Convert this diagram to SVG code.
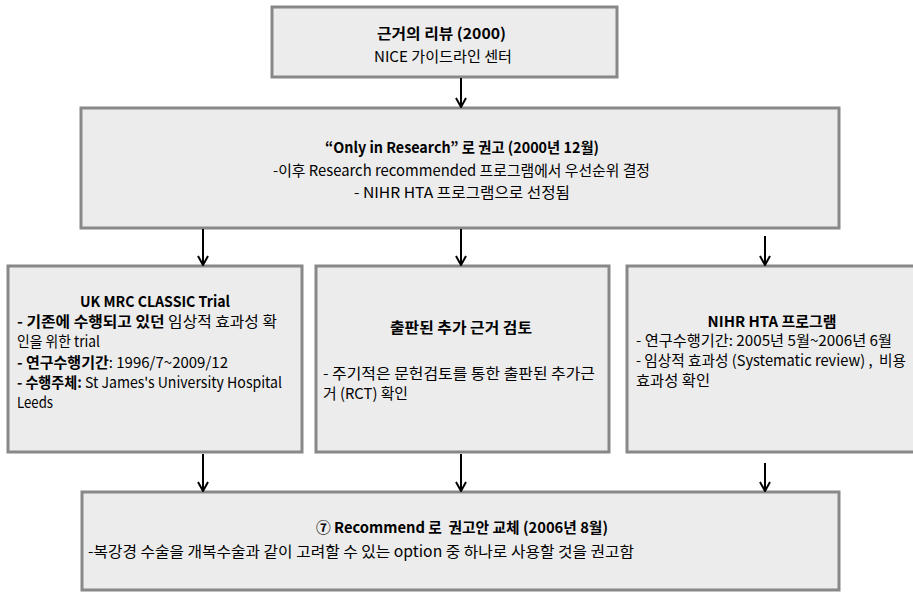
<svg xmlns="http://www.w3.org/2000/svg" width="913" height="592" viewBox="0 0 913 592">
<style>
.box{fill:#ececec;stroke:#888;stroke-width:3}
text{font-family:"Noto Sans CJK KR","Noto Sans",sans-serif;font-size:15px;fill:#000}
.b{font-weight:bold}
.c{text-anchor:middle}
.conn line{stroke:#000;stroke-width:2;marker-end:url(#ah)}
</style>
<defs>
<marker id="ah" viewBox="0 0 12 12" refX="11" refY="6" markerWidth="12" markerHeight="12" markerUnits="userSpaceOnUse" orient="auto">
<path d="M2,1 L11,6 L2,11" fill="none" stroke="#000" stroke-width="2"/>
</marker>
</defs>
<rect width="913" height="592" fill="#fff"/>
<g id="n-review">
<rect class="box" x="272" y="7" width="345" height="70"/>
<text class="b c" x="441.5" y="39" textLength="129" lengthAdjust="spacingAndGlyphs">근거의 리뷰 (2000)</text>
<text class="c" x="443" y="62" textLength="138" lengthAdjust="spacingAndGlyphs">NICE 가이드라인 센터</text>
</g>
<g id="n-only">
<rect class="box" x="81" y="108" width="758" height="120"/>
<text class="b c" x="462" y="153" textLength="274" lengthAdjust="spacingAndGlyphs">“Only in Research” 로 권고 (2000년 12월)</text>
<text class="c" x="461.5" y="176" textLength="377" lengthAdjust="spacingAndGlyphs">-이후 Research recommended 프로그램에서 우선순위 결정</text>
<text class="c" x="462" y="198" textLength="216" lengthAdjust="spacingAndGlyphs">- NIHR HTA 프로그램으로 선정됨</text>
</g>
<g id="n-classic">
<rect class="box" x="8" y="266" width="294" height="186"/>
<text class="b c" x="155" y="307" textLength="150" lengthAdjust="spacingAndGlyphs">UK MRC CLASSIC Trial</text>
<text x="17" y="327" textLength="260" lengthAdjust="spacingAndGlyphs"><tspan class="b">- 기존에 수행되고 있던 </tspan>임상적 효과성 확</text>
<text x="17" y="347" textLength="83" lengthAdjust="spacingAndGlyphs">인을 위한 trial</text>
<text x="17" y="368" textLength="211" lengthAdjust="spacingAndGlyphs"><tspan class="b">- 연구수행기간</tspan>: 1996/7~2009/12</text>
<text x="17" y="388" textLength="265" lengthAdjust="spacingAndGlyphs"><tspan class="b">- 수행주체:</tspan> St James's University Hospital</text>
<text x="17" y="408" textLength="36" lengthAdjust="spacingAndGlyphs">Leeds</text>
</g>
<g id="n-published">
<rect class="box" x="316" y="266" width="293" height="186"/>
<text class="b c" x="461" y="333" textLength="142" lengthAdjust="spacingAndGlyphs">출판된 추가 근거 검토</text>
<text x="323" y="379" textLength="272" lengthAdjust="spacingAndGlyphs">- 주기적은 문헌검토를 통한 출판된 추가근</text>
<text x="323" y="399" textLength="85" lengthAdjust="spacingAndGlyphs">거 (RCT) 확인</text>
</g>
<g id="n-nihr">
<rect class="box" x="627" y="266" width="290" height="186"/>
<text class="b c" x="772" y="327" textLength="129" lengthAdjust="spacingAndGlyphs">NIHR HTA 프로그램</text>
<text x="636" y="346" textLength="256" lengthAdjust="spacingAndGlyphs">- 연구수행기간: 2005년 5월~2006년 6월</text>
<text x="636" y="366" textLength="270" lengthAdjust="spacingAndGlyphs">- 임상적 효과성 (Systematic review) ,&#160; 비용</text>
<text x="636" y="386" textLength="74" lengthAdjust="spacingAndGlyphs">효과성 확인</text>
</g>
<g id="n-recommend">
<rect class="box" x="82" y="492" width="757" height="98"/>
<text class="b c" x="462" y="533" textLength="292" lengthAdjust="spacingAndGlyphs">⑦ Recommend 로&#160; 권고안 교체 (2006년 8월)</text>
<text x="88" y="557" textLength="546" lengthAdjust="spacingAndGlyphs">-복강경 수술을 개복수술과 같이 고려할 수 있는 option 중 하나로 사용할 것을 권고함</text>
</g>
<g id="connectors" class="conn">
<line x1="461" y1="78" x2="461" y2="107"/>
<line x1="203" y1="229" x2="203" y2="265"/>
<line x1="461" y1="229" x2="461" y2="265"/>
<line x1="765" y1="236" x2="765" y2="265"/>
<line x1="203" y1="454" x2="203" y2="491"/>
<line x1="461" y1="454" x2="461" y2="491"/>
<line x1="765" y1="463" x2="765" y2="491"/>
</g>
</svg>
